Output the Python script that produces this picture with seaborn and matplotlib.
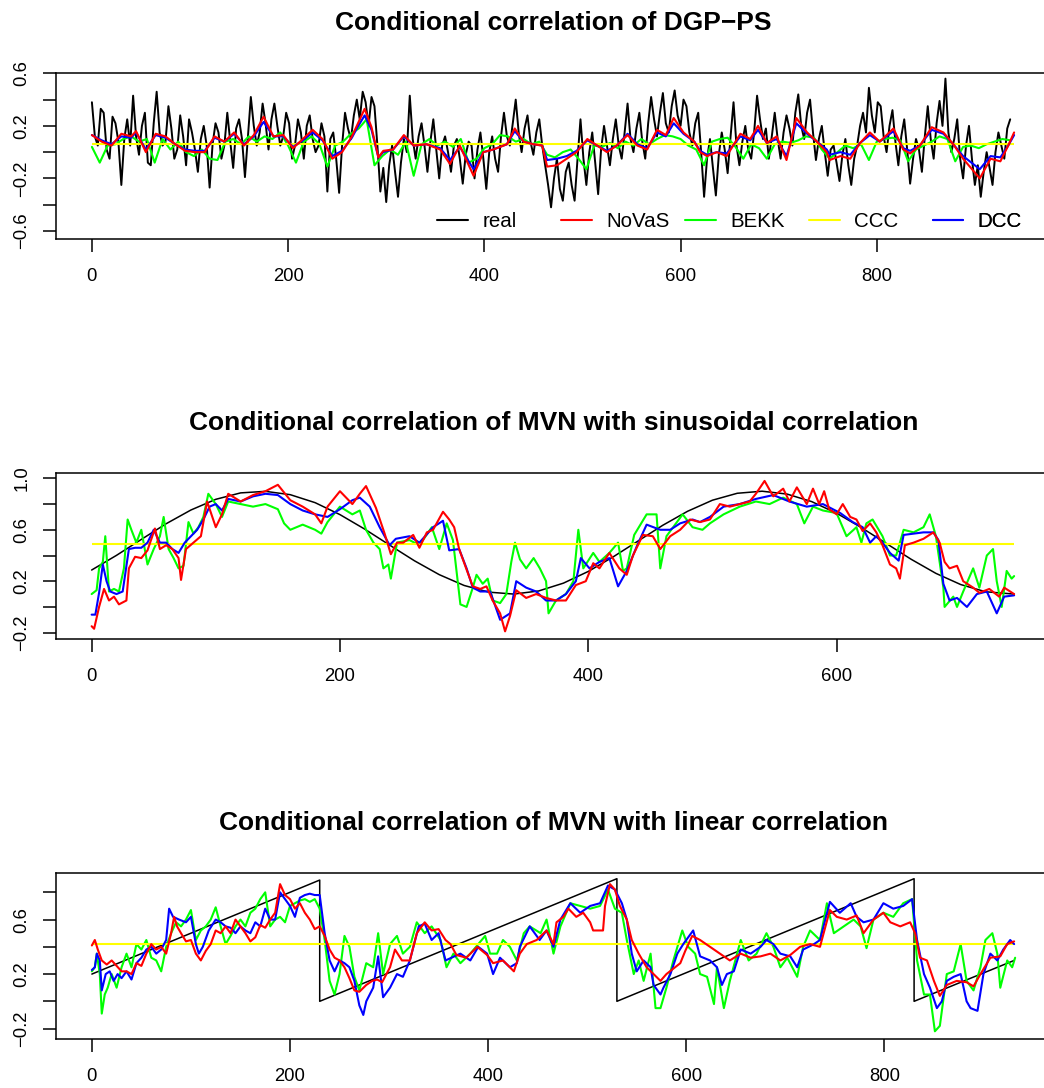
import numpy as np
import matplotlib
matplotlib.use("Agg")
import matplotlib.pyplot as plt
from matplotlib.lines import Line2D
import seaborn as sns

# ---- panel 1: DGP-PS (real series sampled every 3 steps, BEKK every 8) ----
real1_step = 3
real1 = [
    0.38, 0.12, 0.05, 0.33, 0.30, 0.02, -0.05, 0.27, 0.22, 0.08,
    -0.25, 0.10, 0.25, 0.05, 0.43, 0.12, -0.02, 0.20, 0.30, -0.08,
    -0.10, 0.22, 0.46, 0.15, 0.05, 0.08, 0.35, 0.18, -0.05, 0.02,
    0.28, 0.12, -0.10, 0.25, 0.15, 0.02, -0.15, 0.10, 0.20, 0.05,
    -0.27, 0.06, 0.22, 0.15, -0.05, 0.05, 0.30, 0.08, -0.12, 0.18,
    0.25, 0.10, -0.19, 0.12, 0.42, 0.20, 0.05, 0.15, 0.37, 0.22,
    0.02, 0.25, 0.37, 0.20, 0.05, 0.12, 0.30, 0.22, -0.05, 0.05,
    0.25, 0.15, -0.05, 0.20, 0.28, 0.10, 0.00, 0.05, 0.22, 0.12,
    -0.30, 0.10, 0.15, -0.05, -0.31, 0.05, 0.30, 0.18, 0.10, 0.28,
    0.40, 0.25, 0.46, 0.38, 0.20, 0.42, 0.35, 0.05, -0.30, -0.12,
    -0.38, -0.10, 0.05, -0.15, -0.34, -0.08, 0.10, 0.00, 0.43, 0.10,
    -0.05, 0.12, 0.22, 0.05, -0.15, 0.08, 0.25, 0.02, -0.20, 0.05,
    0.12, 0.00, -0.15, 0.05, 0.10, -0.05, -0.24, -0.02, 0.08, 0.05,
    -0.20, 0.02, 0.15, -0.05, -0.28, 0.00, 0.12, -0.05, -0.15, 0.12,
    0.30, 0.12, 0.05, 0.22, 0.40, 0.15, 0.00, 0.18, 0.28, 0.08,
    -0.02, 0.15, 0.25, 0.05, -0.10, -0.25, -0.42, -0.20, -0.05, -0.28,
    -0.37, -0.15, -0.08, -0.25, -0.37, -0.05, 0.25, -0.05, -0.25, 0.00,
    0.15, -0.08, -0.32, 0.02, 0.20, 0.05, -0.10, 0.10, 0.25, 0.05,
    -0.05, 0.15, 0.37, 0.10, 0.00, 0.18, 0.30, 0.08, -0.05, 0.22,
    0.42, 0.25, 0.12, 0.30, 0.45, 0.22, 0.15, 0.35, 0.47, 0.28,
    0.20, 0.40, 0.35, 0.15, 0.05, 0.22, 0.30, 0.00, -0.34, -0.05,
    0.10, -0.12, -0.33, -0.02, 0.15, 0.02, -0.16, 0.12, 0.38, 0.05,
    -0.10, 0.08, 0.20, 0.02, -0.05, 0.15, 0.43, 0.25, 0.10, 0.18,
    -0.05, 0.12, 0.30, 0.10, -0.05, 0.15, 0.28, 0.18, 0.05, 0.30,
    0.44, 0.20, 0.10, 0.30, 0.40, 0.15, -0.06, 0.10, 0.20, 0.00,
    -0.18, 0.02, 0.05, -0.08, -0.22, -0.02, 0.10, -0.10, -0.25, -0.05,
    0.05, 0.20, 0.30, 0.15, 0.49, 0.28, 0.15, 0.38, 0.35, 0.12,
    0.00, 0.20, 0.32, 0.08, -0.10, 0.12, 0.25, 0.02, -0.24, -0.05,
    0.10, 0.02, -0.15, 0.12, 0.35, 0.10, -0.05, 0.22, 0.39, 0.20,
    0.56, 0.15, 0.00, 0.10, 0.25, -0.05, -0.20, 0.05, 0.20, -0.05,
    -0.25, -0.10, -0.34, -0.15, 0.00, -0.12, -0.25, 0.00, 0.15, 0.05,
    -0.05, 0.18, 0.25,
]

t1 = [0, 10, 20, 30, 40, 45, 55, 65, 75, 85, 95, 105, 115, 125, 135, 145, 155, 165,
      175, 185, 195, 205, 215, 225, 235, 245, 255, 265, 270, 278, 285, 292, 297, 307,
      318, 328, 341, 355, 365, 375, 389, 399, 409, 423, 431, 440, 450, 459, 464, 474,
      484, 494, 505, 515, 525, 535, 546, 556, 566, 576, 585, 593, 603, 614, 620, 627,
      637, 647, 661, 671, 679, 688, 698, 708, 718, 729, 739, 749, 752, 763, 773, 783,
      793, 803, 817, 827, 834, 844, 856, 868, 878, 888, 905, 916, 926, 934, 940]
novas1 = [0.13, 0.08, 0.05, 0.14, 0.12, 0.16, 0.00, 0.14, 0.12, 0.06, 0.01, 0.00, 0.00,
          0.12, 0.08, 0.15, 0.05, 0.13, 0.27, 0.12, 0.13, 0.03, 0.10, 0.17, 0.10, -0.05,
          0.00, 0.12, 0.20, 0.33, 0.19, -0.04, 0.01, 0.02, 0.13, 0.05, 0.06, 0.02, -0.09,
          0.05, -0.18, 0.00, 0.02, 0.06, 0.18, 0.08, 0.06, 0.05, -0.11, -0.10, -0.05,
          0.00, 0.10, 0.05, 0.00, 0.05, 0.13, 0.05, 0.02, 0.17, 0.13, 0.26, 0.15, 0.08,
          0.00, -0.03, 0.00, -0.03, 0.14, 0.10, 0.20, 0.07, 0.12, -0.06, 0.26, 0.15, 0.08,
          0.00, -0.06, -0.03, -0.05, 0.07, 0.15, 0.08, 0.18, 0.02, -0.01, 0.05, 0.19,
          0.15, 0.06, -0.05, -0.20, -0.05, -0.07, 0.05, 0.15]
dcc1 = [0.13, 0.09, 0.06, 0.12, 0.11, 0.15, 0.02, 0.13, 0.11, 0.06, 0.02, 0.01, 0.01,
        0.11, 0.08, 0.14, 0.06, 0.12, 0.23, 0.12, 0.12, 0.04, 0.09, 0.15, 0.09, -0.03,
        0.01, 0.11, 0.18, 0.28, 0.17, -0.04, 0.00, 0.02, 0.12, 0.05, 0.06, 0.03, -0.06,
        0.04, -0.13, 0.00, 0.02, 0.06, 0.16, 0.08, 0.06, 0.05, -0.06, -0.05, -0.03,
        0.01, 0.09, 0.05, 0.01, 0.05, 0.14, 0.06, 0.03, 0.15, 0.12, 0.22, 0.14, 0.08,
        0.01, -0.02, 0.00, -0.01, 0.12, 0.09, 0.17, 0.07, 0.10, -0.03, 0.22, 0.14, 0.08,
        0.02, -0.02, 0.00, -0.02, 0.07, 0.13, 0.08, 0.16, 0.03, 0.01, 0.05, 0.17,
        0.14, 0.06, -0.03, -0.13, -0.03, -0.04, 0.05, 0.13]

bekk1_step = 8
bekk1 = [
    0.04, -0.08, 0.05, 0.06, 0.10, 0.12, 0.08, 0.10, -0.08, 0.10,
    0.02, 0.08, 0.00, -0.03, 0.02, -0.05, -0.06, 0.08, 0.10, 0.06,
    0.12, 0.08, 0.12, 0.10, 0.15, 0.05, -0.08, 0.08, 0.12, 0.06,
    -0.11, 0.05, 0.08, 0.14, 0.18, 0.25, -0.10, -0.03, 0.02, -0.02,
    0.08, -0.18, 0.06, 0.10, 0.05, 0.08, 0.04, 0.10, -0.08, -0.05,
    0.03, 0.06, 0.13, 0.12, 0.08, 0.10, 0.06, 0.08, -0.02, -0.04,
    0.00, 0.02, -0.05, -0.13, 0.05, 0.04, 0.07, 0.03, 0.08, 0.05,
    0.10, 0.06, 0.10, 0.13, 0.12, 0.10, 0.05, 0.02, -0.10, 0.08,
    0.10, 0.11, 0.04, -0.05, 0.06, 0.03, -0.05, 0.06, 0.08, 0.07,
    0.09, 0.12, 0.11, 0.02, -0.05, 0.00, 0.05, 0.03, 0.06, -0.06,
    0.08, 0.10, 0.11, 0.09, -0.07, 0.02, 0.05, 0.08, 0.12, 0.10,
    -0.07, 0.04, 0.05, 0.03, 0.06, 0.08, 0.10, 0.09,
]
ccc1 = 0.063
n1 = 940

# ---- panel 2: MVN with sinusoidal correlation ----
t_sin = [0, 20, 40, 60, 80, 100, 120, 140, 160, 180, 200, 220, 240, 260, 280, 300,
         320, 340, 360, 380, 400, 420, 440, 460, 480, 500, 520, 540, 560, 580, 600,
         620, 640, 660, 680, 700, 720, 743]
real2 = [0.287, 0.401, 0.525, 0.647, 0.754, 0.837, 0.887, 0.899, 0.873, 0.811, 0.718,
         0.605, 0.481, 0.359, 0.251, 0.167, 0.115, 0.100, 0.124, 0.185, 0.276, 0.389,
         0.512, 0.635, 0.744, 0.830, 0.884, 0.900, 0.878, 0.819, 0.729, 0.617, 0.494,
         0.371, 0.261, 0.174, 0.118, 0.100]

novas2 = [(0, -0.15), (2, -0.17), (6, 0.0), (10, 0.14), (14, 0.05), (18, 0.08), (22, 0.02),
          (28, 0.05), (30, 0.30), (35, 0.39), (40, 0.38), (45, 0.44), (51, 0.61), (55, 0.45),
          (60, 0.48), (65, 0.45), (70, 0.38), (72, 0.21), (76, 0.45), (82, 0.50), (88, 0.55),
          (93, 0.82), (100, 0.62), (105, 0.72), (110, 0.88), (120, 0.82), (130, 0.87),
          (140, 0.90), (150, 0.95), (160, 0.83), (170, 0.78), (180, 0.72), (185, 0.65),
          (190, 0.78), (200, 0.90), (210, 0.80), (216, 0.88), (221, 0.94), (229, 0.77),
          (236, 0.57), (241, 0.41), (246, 0.50), (251, 0.50), (259, 0.56), (264, 0.46),
          (270, 0.58), (275, 0.60), (283, 0.74), (288, 0.68), (292, 0.62), (296, 0.45),
          (302, 0.29), (307, 0.16), (313, 0.14), (318, 0.16), (323, 0.05), (329, -0.05),
          (333, -0.19), (337, -0.07), (342, 0.13), (350, 0.07), (358, 0.10), (366, 0.07),
          (374, 0.05), (382, 0.05), (390, 0.17), (398, 0.20), (404, 0.34), (409, 0.30),
          (417, 0.42), (425, 0.30), (431, 0.25), (436, 0.40), (444, 0.56), (452, 0.55),
          (458, 0.45), (466, 0.55), (474, 0.60), (482, 0.68), (490, 0.66), (498, 0.68),
          (506, 0.80), (514, 0.78), (522, 0.80), (530, 0.82), (535, 0.88), (542, 0.98),
          (549, 0.86), (557, 0.92), (562, 0.82), (568, 0.93), (576, 0.80), (581, 0.92),
          (586, 0.80), (590, 0.90), (594, 0.76), (600, 0.72), (605, 0.80), (611, 0.70),
          (616, 0.68), (621, 0.59), (627, 0.65), (632, 0.58), (637, 0.48), (643, 0.33),
          (648, 0.30), (651, 0.22), (655, 0.48), (662, 0.50), (670, 0.53), (678, 0.58),
          (683, 0.50), (687, 0.35), (691, 0.30), (697, 0.32), (702, 0.20), (710, 0.15),
          (715, 0.11), (723, 0.14), (731, 0.08), (735, 0.15), (743, 0.10)]
dcc2 = [(0, -0.06), (3, -0.06), (6, 0.11), (9, 0.33), (12, 0.20), (15, 0.12), (20, 0.10),
        (25, 0.12), (30, 0.45), (35, 0.46), (40, 0.46), (45, 0.50), (50, 0.60), (55, 0.50),
        (60, 0.50), (65, 0.45), (70, 0.42), (75, 0.50), (80, 0.55), (85, 0.60), (90, 0.68),
        (95, 0.78), (100, 0.80), (105, 0.75), (110, 0.84), (120, 0.82), (130, 0.86),
        (140, 0.88), (150, 0.87), (160, 0.80), (170, 0.75), (180, 0.72), (190, 0.70),
        (200, 0.76), (210, 0.83), (216, 0.85), (224, 0.78), (232, 0.62), (240, 0.48),
        (245, 0.53), (256, 0.55), (264, 0.50), (275, 0.62), (283, 0.67), (288, 0.44),
        (296, 0.45), (302, 0.30), (307, 0.15), (313, 0.12), (321, 0.12), (329, -0.10),
        (337, -0.05), (342, 0.20), (350, 0.15), (358, 0.12), (366, 0.05), (374, 0.05),
        (382, 0.10), (390, 0.20), (394, 0.38), (401, 0.30), (409, 0.35), (417, 0.38),
        (424, 0.16), (431, 0.28), (439, 0.47), (447, 0.64), (458, 0.60), (466, 0.60),
        (474, 0.65), (484, 0.68), (490, 0.66), (498, 0.70), (509, 0.78), (522, 0.80),
        (535, 0.84), (549, 0.87), (562, 0.82), (576, 0.78), (589, 0.80), (603, 0.73),
        (613, 0.66), (621, 0.62), (627, 0.50), (632, 0.55), (637, 0.50), (643, 0.42),
        (650, 0.36), (654, 0.56), (662, 0.57), (670, 0.58), (678, 0.58), (682, 0.52),
        (686, 0.18), (691, 0.05), (697, 0.07), (705, 0.00), (713, 0.10), (721, 0.12),
        (729, -0.05), (735, 0.08), (743, 0.09)]
bekk2 = [(0, 0.10), (4, 0.13), (6, 0.30), (9, 0.35), (11, 0.55), (14, 0.12), (18, 0.14),
         (22, 0.12), (26, 0.30), (29, 0.68), (32, 0.60), (36, 0.50), (40, 0.60), (45, 0.33),
         (50, 0.45), (55, 0.55), (58, 0.70), (62, 0.45), (66, 0.38), (70, 0.30), (74, 0.32),
         (78, 0.66), (82, 0.57), (86, 0.62), (90, 0.70), (94, 0.88), (100, 0.80), (105, 0.70),
         (110, 0.82), (120, 0.80), (130, 0.78), (140, 0.80), (150, 0.76), (155, 0.65),
         (160, 0.60), (170, 0.64), (180, 0.60), (185, 0.57), (190, 0.66), (200, 0.78),
         (210, 0.72), (216, 0.75), (221, 0.60), (227, 0.50), (232, 0.45), (235, 0.30),
         (239, 0.33), (241, 0.22), (246, 0.50), (256, 0.52), (264, 0.48), (274, 0.62),
         (280, 0.45), (286, 0.65), (291, 0.52), (297, 0.02), (302, 0.00), (307, 0.15),
         (310, 0.25), (315, 0.18), (319, 0.22), (323, 0.05), (329, 0.03), (334, 0.10),
         (338, 0.35), (341, 0.50), (345, 0.37), (350, 0.30), (356, 0.38), (361, 0.30),
         (366, 0.20), (368, -0.05), (374, 0.05), (382, 0.10), (388, 0.20), (392, 0.60),
         (396, 0.30), (404, 0.42), (409, 0.35), (417, 0.42), (424, 0.50), (428, 0.28),
         (431, 0.30), (437, 0.56), (447, 0.72), (455, 0.72), (458, 0.30), (463, 0.55),
         (476, 0.72), (484, 0.62), (492, 0.60), (498, 0.65), (509, 0.72), (522, 0.78),
         (535, 0.82), (546, 0.80), (557, 0.85), (568, 0.80), (574, 0.65), (581, 0.78),
         (589, 0.75), (600, 0.73), (608, 0.55), (616, 0.62), (620, 0.50), (624, 0.65),
         (629, 0.68), (637, 0.55), (643, 0.40), (648, 0.40), (654, 0.60), (662, 0.58),
         (670, 0.62), (675, 0.72), (680, 0.55), (686, 0.15), (687, 0.00), (694, 0.08),
         (697, 0.00), (702, 0.12), (710, 0.30), (715, 0.15), (721, 0.40), (726, 0.45),
         (729, 0.20), (733, 0.00), (737, 0.28), (741, 0.22), (743, 0.24)]
ccc2 = 0.49
n2 = 743

# ---- panel 3: MVN with linear correlation ----
t_lin = [0, 230, 230, 530, 530, 830, 830, 931]
real3 = [0.20, 0.89, 0.00, 0.90, 0.00, 0.90, 0.00, 0.30]

novas3 = [(0, 0.41), (3, 0.45), (6, 0.38), (10, 0.30), (15, 0.27), (20, 0.30), (25, 0.26),
          (30, 0.22), (35, 0.22), (40, 0.20), (45, 0.28), (50, 0.26), (55, 0.35), (60, 0.42),
          (65, 0.38), (70, 0.40), (75, 0.35), (80, 0.50), (83, 0.62), (86, 0.55), (90, 0.50),
          (95, 0.44), (100, 0.45), (105, 0.35), (110, 0.30), (115, 0.37), (120, 0.42),
          (125, 0.52), (130, 0.50), (135, 0.55), (140, 0.50), (145, 0.60), (150, 0.55),
          (155, 0.50), (160, 0.44), (165, 0.47), (170, 0.56), (175, 0.54), (180, 0.60),
          (185, 0.65), (190, 0.86), (195, 0.78), (200, 0.75), (205, 0.68), (210, 0.72),
          (215, 0.65), (220, 0.60), (225, 0.53), (230, 0.55), (235, 0.48), (240, 0.38),
          (245, 0.32), (250, 0.30), (255, 0.25), (260, 0.17), (265, 0.08), (270, 0.07),
          (277, 0.12), (283, 0.15), (288, 0.16), (293, 0.14), (301, 0.25), (306, 0.38),
          (313, 0.30), (321, 0.30), (328, 0.50), (336, 0.58), (343, 0.52), (350, 0.53),
          (357, 0.45), (362, 0.42), (368, 0.34), (378, 0.32), (389, 0.40), (399, 0.34),
          (405, 0.28), (415, 0.30), (426, 0.22), (432, 0.35), (439, 0.42), (449, 0.45),
          (459, 0.52), (466, 0.42), (469, 0.58), (476, 0.62), (481, 0.68), (489, 0.62),
          (496, 0.65), (503, 0.58), (506, 0.52), (516, 0.52), (518, 0.70), (523, 0.86),
          (528, 0.82), (533, 0.70), (540, 0.60), (545, 0.45), (552, 0.35), (560, 0.25),
          (567, 0.20), (574, 0.15), (580, 0.20), (587, 0.24), (594, 0.28), (599, 0.37),
          (606, 0.48), (614, 0.45), (624, 0.40), (634, 0.35), (644, 0.30), (655, 0.35),
          (665, 0.32), (675, 0.33), (685, 0.35), (695, 0.30), (705, 0.34), (715, 0.40),
          (725, 0.42), (735, 0.40), (745, 0.67), (752, 0.62), (762, 0.60), (772, 0.63),
          (779, 0.50), (789, 0.60), (799, 0.65), (806, 0.58), (816, 0.55), (826, 0.58),
          (831, 0.50), (836, 0.32), (843, 0.30), (850, 0.15), (856, 0.04), (863, 0.12),
          (873, 0.15), (883, 0.14), (890, 0.11), (897, 0.20), (907, 0.32), (917, 0.33),
          (924, 0.42), (931, 0.44)]
dcc3 = [(0, 0.23), (3, 0.25), (5, 0.35), (8, 0.30), (10, 0.08), (14, 0.20), (18, 0.22),
        (22, 0.15), (26, 0.20), (30, 0.17), (35, 0.22), (40, 0.16), (45, 0.28), (50, 0.32),
        (55, 0.38), (60, 0.40), (65, 0.35), (70, 0.38), (75, 0.45), (78, 0.68), (82, 0.62),
        (88, 0.60), (95, 0.58), (100, 0.62), (105, 0.42), (108, 0.35), (112, 0.40),
        (118, 0.52), (125, 0.60), (130, 0.58), (135, 0.55), (140, 0.54), (145, 0.50),
        (150, 0.55), (155, 0.52), (160, 0.50), (165, 0.58), (170, 0.55), (175, 0.68),
        (180, 0.60), (185, 0.60), (190, 0.80), (195, 0.75), (200, 0.70), (205, 0.62),
        (210, 0.76), (215, 0.78), (220, 0.79), (225, 0.78), (230, 0.78), (235, 0.50),
        (240, 0.30), (245, 0.22), (250, 0.30), (255, 0.28), (260, 0.25), (265, 0.15),
        (270, -0.03), (274, -0.10), (277, 0.00), (284, 0.10), (289, 0.33), (294, 0.03),
        (301, 0.10), (308, 0.20), (314, 0.18), (321, 0.30), (330, 0.55), (336, 0.57),
        (343, 0.45), (350, 0.50), (357, 0.30), (363, 0.32), (372, 0.35), (382, 0.30),
        (390, 0.40), (399, 0.35), (405, 0.20), (412, 0.32), (422, 0.25), (429, 0.28),
        (432, 0.40), (442, 0.55), (452, 0.45), (459, 0.52), (466, 0.40), (473, 0.60),
        (483, 0.72), (493, 0.65), (503, 0.70), (513, 0.72), (521, 0.85), (528, 0.82),
        (535, 0.72), (540, 0.60), (545, 0.35), (550, 0.22), (557, 0.30), (564, 0.25),
        (567, 0.12), (574, 0.05), (577, 0.10), (584, 0.20), (591, 0.35), (597, 0.42),
        (607, 0.52), (614, 0.33), (624, 0.30), (631, 0.25), (636, 0.12), (641, 0.20),
        (648, 0.22), (655, 0.38), (665, 0.35), (675, 0.40), (681, 0.45), (688, 0.42),
        (695, 0.35), (705, 0.33), (712, 0.25), (718, 0.38), (729, 0.42), (735, 0.45),
        (745, 0.73), (755, 0.65), (766, 0.72), (772, 0.62), (779, 0.58), (789, 0.60),
        (799, 0.72), (809, 0.68), (819, 0.70), (828, 0.75), (833, 0.45), (840, 0.20),
        (846, 0.10), (853, -0.05), (858, 0.00), (863, 0.15), (870, 0.18), (877, 0.20),
        (883, 0.00), (887, -0.05), (894, -0.07), (900, 0.20), (907, 0.35), (914, 0.30),
        (920, 0.38), (927, 0.45), (931, 0.42)]
bekk3 = [(0, 0.22), (3, 0.25), (5, 0.35), (8, 0.20), (10, -0.09), (13, 0.05), (16, 0.10),
         (20, 0.20), (25, 0.10), (30, 0.25), (35, 0.35), (40, 0.25), (45, 0.42), (50, 0.38),
         (55, 0.45), (60, 0.32), (65, 0.30), (70, 0.22), (75, 0.40), (80, 0.50), (85, 0.58),
         (90, 0.55), (95, 0.60), (100, 0.67), (105, 0.45), (110, 0.52), (115, 0.55),
         (120, 0.60), (125, 0.69), (130, 0.55), (135, 0.42), (140, 0.48), (145, 0.55),
         (150, 0.60), (155, 0.55), (160, 0.65), (165, 0.68), (170, 0.75), (175, 0.80),
         (180, 0.55), (185, 0.60), (190, 0.62), (195, 0.58), (200, 0.70), (205, 0.72),
         (210, 0.74), (215, 0.75), (220, 0.73), (225, 0.75), (230, 0.68), (235, 0.45),
         (240, 0.15), (245, 0.05), (250, 0.20), (255, 0.48), (260, 0.40), (265, 0.18),
         (270, 0.08), (277, 0.28), (284, 0.25), (289, 0.50), (294, 0.20), (301, 0.42),
         (308, 0.48), (314, 0.35), (321, 0.40), (328, 0.58), (336, 0.50), (343, 0.55),
         (352, 0.45), (358, 0.25), (365, 0.35), (372, 0.28), (382, 0.35), (390, 0.42),
         (397, 0.48), (402, 0.35), (409, 0.35), (415, 0.45), (422, 0.40), (429, 0.30),
         (436, 0.50), (442, 0.55), (453, 0.50), (459, 0.60), (466, 0.35), (473, 0.55),
         (483, 0.72), (493, 0.70), (503, 0.68), (513, 0.70), (521, 0.82), (528, 0.68),
         (535, 0.65), (540, 0.45), (547, 0.20), (552, 0.30), (557, 0.15), (564, 0.35),
         (569, -0.05), (574, -0.05), (580, 0.10), (587, 0.30), (596, 0.52), (602, 0.40),
         (609, 0.35), (614, 0.20), (621, 0.18), (628, -0.02), (631, 0.25), (638, -0.05),
         (644, 0.15), (655, 0.45), (663, 0.30), (671, 0.35), (681, 0.50), (688, 0.40),
         (695, 0.25), (702, 0.32), (712, 0.18), (718, 0.40), (725, 0.52), (735, 0.45),
         (742, 0.72), (749, 0.50), (759, 0.55), (769, 0.60), (776, 0.55), (782, 0.39),
         (789, 0.60), (799, 0.65), (809, 0.62), (819, 0.72), (828, 0.75), (833, 0.30),
         (840, 0.05), (846, 0.05), (851, -0.22), (856, -0.18), (863, 0.20), (870, 0.22),
         (877, 0.42), (883, 0.15), (890, 0.08), (897, 0.25), (902, 0.45), (909, 0.50),
         (914, 0.35), (917, 0.10), (924, 0.30), (929, 0.25), (932, 0.32)]
ccc3 = 0.42
n3 = 931

titles = ["Conditional correlation of DGP\u2212PS",
          "Conditional correlation of MVN with sinusoidal correlation",
          "Conditional correlation of MVN with linear correlation"]
legend_labels = ["real", "NoVaS", "BEKK", "CCC", "DCC"]
colors = {"real": "black", "NoVaS": "#ff0000", "BEKK": "#00ff00",
          "CCC": "#ffff00", "DCC": "#0000ff"}


def pairs(p):
    a = np.array(p, dtype=float)
    return a[:, 0], a[:, 1]


def minus(v):
    return f"{v:.1f}".replace("-", "\u2212")


sns.set_theme(style="white")
plt.rcParams["font.family"] = ["Liberation Sans", "DejaVu Sans"]
plt.rcParams["text.color"] = "black"
plt.rcParams["axes.edgecolor"] = "black"
plt.rcParams["axes.linewidth"] = 1.1

W, H = 1044, 1088
fig = plt.figure(figsize=(W / 100, H / 100), dpi=100)
left_px, right_px, box_h = 56, 1051, 166.5
tops = [72.7, 472.7, 872.7]
axes = [fig.add_axes([left_px / W, 1 - (top + box_h) / H, (right_px - left_px) / W, box_h / H])
        for top in tops]

lw = 1.5


def draw(ax, x, y, key, width=lw, z=2):
    sns.lineplot(x=x, y=y, ax=ax, color=colors[key], linewidth=width,
                 estimator=None, sort=False, zorder=z)


# panel 1
ax = axes[0]
draw(ax, np.arange(len(real1)) * real1_step, real1, "real", 1.4, 1)
draw(ax, np.arange(len(bekk1)) * bekk1_step, bekk1, "BEKK", lw, 2)
ax.hlines(ccc1, 0, n1, color=colors["CCC"], linewidth=lw, zorder=3)
draw(ax, t1, dcc1, "DCC", lw, 4)
draw(ax, t1, novas1, "NoVaS", lw, 5)

# panel 2
ax = axes[1]
draw(ax, t_sin, real2, "real", 1.1, 1)
draw(ax, *pairs(bekk2), "BEKK", lw, 2)
ax.hlines(ccc2, 0, n2, color=colors["CCC"], linewidth=lw, zorder=3)
draw(ax, *pairs(dcc2), "DCC", lw, 4)
draw(ax, *pairs(novas2), "NoVaS", lw, 5)

# panel 3
ax = axes[2]
draw(ax, t_lin, real3, "real", 1.1, 1)
draw(ax, *pairs(bekk3), "BEKK", lw, 2)
ax.hlines(ccc3, 0, n3, color=colors["CCC"], linewidth=lw, zorder=3)
draw(ax, *pairs(dcc3), "DCC", lw, 4)
draw(ax, *pairs(novas3), "NoVaS", lw, 5)

xlims = [(-36.6, 977.6), (-28.7, 772.7), (-36.2, 968.2)]
ylims = [(-0.663, 0.605), (-0.251, 1.044), (-0.278, 0.944)]
xticks = [[0, 200, 400, 600, 800], [0, 200, 400, 600], [0, 200, 400, 600, 800]]
yticks = [[-0.6, -0.4, -0.2, 0.0, 0.2, 0.4, 0.6],
          [-0.2, 0.0, 0.2, 0.4, 0.6, 0.8, 1.0],
          [-0.2, 0.0, 0.2, 0.4, 0.6, 0.8]]

for i, ax in enumerate(axes):
    ax.set_xlim(*xlims[i])
    ax.set_ylim(*ylims[i])
    ax.set_xticks(xticks[i])
    ax.set_xticklabels([str(v) for v in xticks[i]])
    ax.set_yticks(yticks[i])
    ax.set_yticklabels([minus(v) if k % 2 == 0 else "" for k, v in enumerate(yticks[i])],
                       rotation=90, va="center")
    ax.tick_params(axis="both", direction="out", length=9.5, width=1.1,
                   colors="black", labelsize=13.3, bottom=True, left=True)
    ax.tick_params(axis="x", pad=11.5)
    ax.tick_params(axis="y", pad=9)
    for s in ax.spines.values():
        s.set_visible(True)
        s.set_color("black")
        s.set_linewidth(1.1)
    ax.set_xlabel("")
    ax.set_ylabel("")
    ax.grid(False)
    ax.set_title(titles[i], fontsize=19, fontweight="bold", pad=30.5, color="black")

# legend of panel 1: equally spaced entries, no frame
leg_x0, leg_step, leg_y = 0.383, 0.1245, 0.104
for k, lab in enumerate(legend_labels):
    h = Line2D([], [], color=colors[lab], linewidth=lw)
    leg = axes[0].legend([h], [lab], loc="center left",
                         bbox_to_anchor=(leg_x0 + k * leg_step, leg_y),
                         frameon=False, borderpad=0, borderaxespad=0,
                         handlelength=1.5, handletextpad=0.7, fontsize=14.8,
                         labelcolor="black")
    axes[0].add_artist(leg)

fig.savefig("out.png", dpi=100)
